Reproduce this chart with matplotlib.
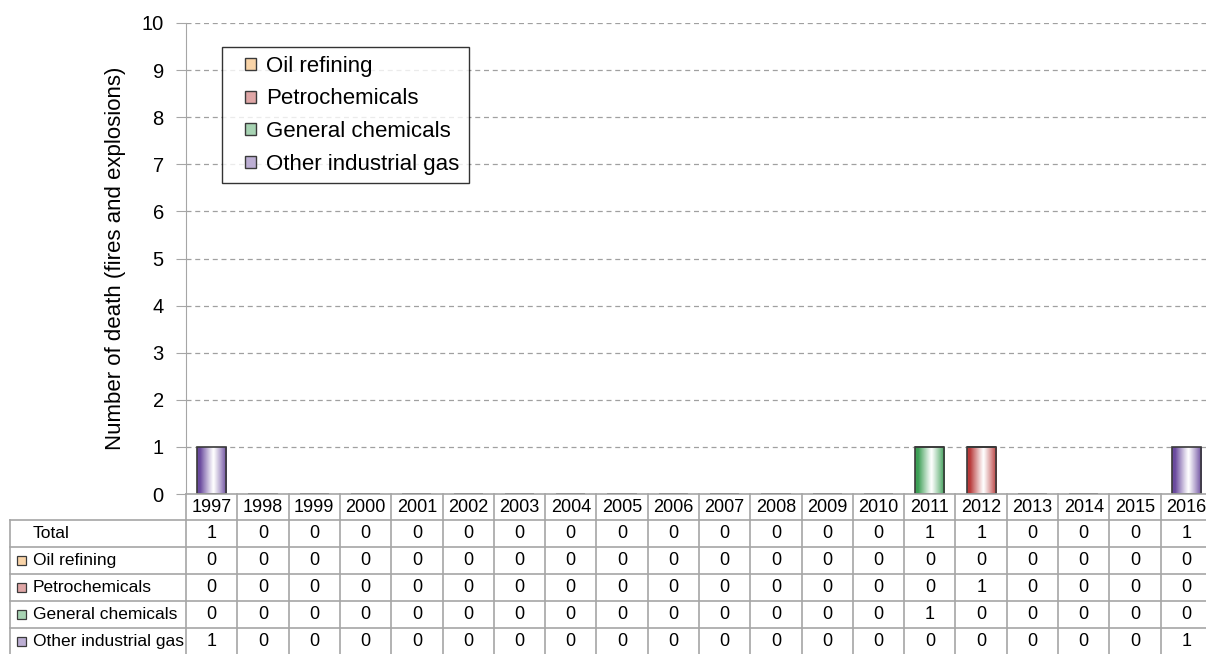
import numpy as np
import matplotlib
matplotlib.use("Agg")
import matplotlib.pyplot as plt
from matplotlib.patches import Rectangle, Patch
from matplotlib.legend_handler import HandlerPatch
from matplotlib.colors import to_rgb

plt.rcParams['font.family'] = ['Liberation Sans', 'DejaVu Sans']

# data
years = [str(y) for y in range(1997, 2017)]
oil_refining = [0] * 20
petrochemicals = [0, 0, 0, 0, 0, 0, 0, 0, 0, 0, 0, 0, 0, 0, 0, 1, 0, 0, 0, 0]
general_chemicals = [0, 0, 0, 0, 0, 0, 0, 0, 0, 0, 0, 0, 0, 0, 1, 0, 0, 0, 0, 0]
other_gas = [1, 0, 0, 0, 0, 0, 0, 0, 0, 0, 0, 0, 0, 0, 0, 0, 0, 0, 0, 1]
series_names = ["Oil refining", "Petrochemicals", "General chemicals", "Other industrial gas"]
series_colors = ["#F2A03D", "#B83A3A", "#3C9E55", "#6A4A9E"]

series = [oil_refining, petrochemicals, general_chemicals, other_gas]
totals = [sum(v) for v in zip(*series)]

W, H = 1206, 654
fig = plt.figure(figsize=(W / 100, H / 100), dpi=100)
ax = fig.add_axes([186 / W, 160 / H, (1212 - 186) / W, (494 - 23) / H])

x = np.arange(len(years))
bw = 0.57
bottom = np.zeros(len(years))
grid_col = "#A6A6A6"


def grad_image(color, n=64):
    c = np.array(to_rgb(color))
    t = np.linspace(-1, 1, n) - 0.1
    m = np.clip(np.abs(t) / 0.9, 0, 1) ** 1.1
    img = np.ones((1, n, 3)) * (1 - m[None, :, None]) + c[None, None, :] * m[None, :, None]
    return img


for vals, col in zip(series, series_colors):
    vals = np.array(vals, dtype=float)
    bars = ax.bar(x, vals, bw, bottom=bottom, facecolor="none", edgecolor="#3A3A3A",
                  linewidth=1.2, zorder=4)
    for b, v in zip(bars, vals):
        if v <= 0:
            continue
        bx, by = b.get_x(), b.get_y()
        im = ax.imshow(grad_image(col), extent=(bx, bx + b.get_width(), by, by + b.get_height()),
                       aspect="auto", zorder=3, interpolation="bilinear")
        im.set_clip_path(b)
    bottom += vals

ax.set_xlim(-0.5, len(years) - 0.5)
ax.set_ylim(0, 10)
ax.set_yticks(range(0, 11))
ax.tick_params(axis="y", labelsize=14.5, length=7, pad=9, color=grid_col, direction="out")
ax.set_xticks([])
ax.yaxis.grid(True, linestyle=(0, (4, 3)), color="#A0A0A0", linewidth=0.9)
ax.set_axisbelow(True)
for s in ["top", "right", "bottom"]:
    ax.spines[s].set_visible(False)
ax.spines["left"].set_color(grid_col)
ax.axhline(0, color=grid_col, linewidth=1.2, zorder=5, clip_on=False)
ax.set_ylabel("Number of death (fires and explosions)", fontsize=16, labelpad=11)


def small_square(legend, orig_handle, xdescent, ydescent, width, height, fontsize):
    s = height
    return Rectangle((width - s - xdescent, -ydescent), s, s)


leg_handles = []
for name, col in zip(series_names, series_colors):
    c = np.array(to_rgb(col))
    light = 0.55 + 0.45 * c
    leg_handles.append(Patch(facecolor=light, edgecolor="#3A3A3A", linewidth=1.0, label=name))
leg = ax.legend(handles=leg_handles, loc="upper left", bbox_to_anchor=(36 / 1026, 1 - 24 / 471),
                fontsize=16, frameon=True, fancybox=False, edgecolor="#000000",
                handlelength=1.15, handleheight=0.45, handletextpad=0.45, borderpad=0.4,
                labelspacing=0.52, borderaxespad=0,
                handler_map={Patch: HandlerPatch(patch_func=small_square)})
leg.get_frame().set_linewidth(1.0)

# data table below the chart
tax = fig.add_axes([10 / W, 0, (1212 - 10) / W, 160 / H])
lab_w = (186 - 10) / ((1212 - 186) / len(years))
tax.set_xlim(-0.5 - lab_w, len(years) - 0.5)
tax.set_ylim(160, 0)
tax.axis("off")

head_h = 26
row_h = 27
row_labels = ["Total"] + series_names
row_values = [totals] + series
tab_col = "#A6A6A6"

# header row (years)
for i, yr in enumerate(years):
    tax.text(i, head_h / 2 + 1, yr, ha="center", va="center", fontsize=13)
for i in range(len(years) + 1):
    tax.plot([i - 0.5, i - 0.5], [0, head_h], color=tab_col, lw=1.2, clip_on=False)

n_rows = len(row_labels)
bottom_y = head_h + row_h * n_rows
for r in range(n_rows + 1):
    yy = head_h + row_h * r
    tax.plot([-0.5 - lab_w, len(years) - 0.5], [yy, yy], color=tab_col, lw=1.2, clip_on=False)
for i in range(len(years) + 1):
    tax.plot([i - 0.5, i - 0.5], [head_h, bottom_y], color=tab_col, lw=1.2, clip_on=False)
tax.plot([-0.5 - lab_w, -0.5 - lab_w], [head_h, bottom_y], color=tab_col, lw=1.2, clip_on=False)

px = lab_w / 176.0
for r, (lab, vals) in enumerate(zip(row_labels, row_values)):
    yc = head_h + row_h * r + row_h / 2
    tax.text(-0.5 - lab_w + 23 * px, yc, lab, ha="left", va="center", fontsize=12.5)
    if r > 0:
        c = np.array(to_rgb(series_colors[r - 1]))
        tax.add_patch(Rectangle((-0.5 - lab_w + 7 * px, yc - 4.5), 9 * px, 9,
                                facecolor=0.55 + 0.45 * c, edgecolor="#3A3A3A", lw=0.9,
                                clip_on=False))
    for i, v in enumerate(vals):
        tax.text(i, yc, str(v), ha="center", va="center", fontsize=13)

fig.savefig("out.png", dpi=100)
